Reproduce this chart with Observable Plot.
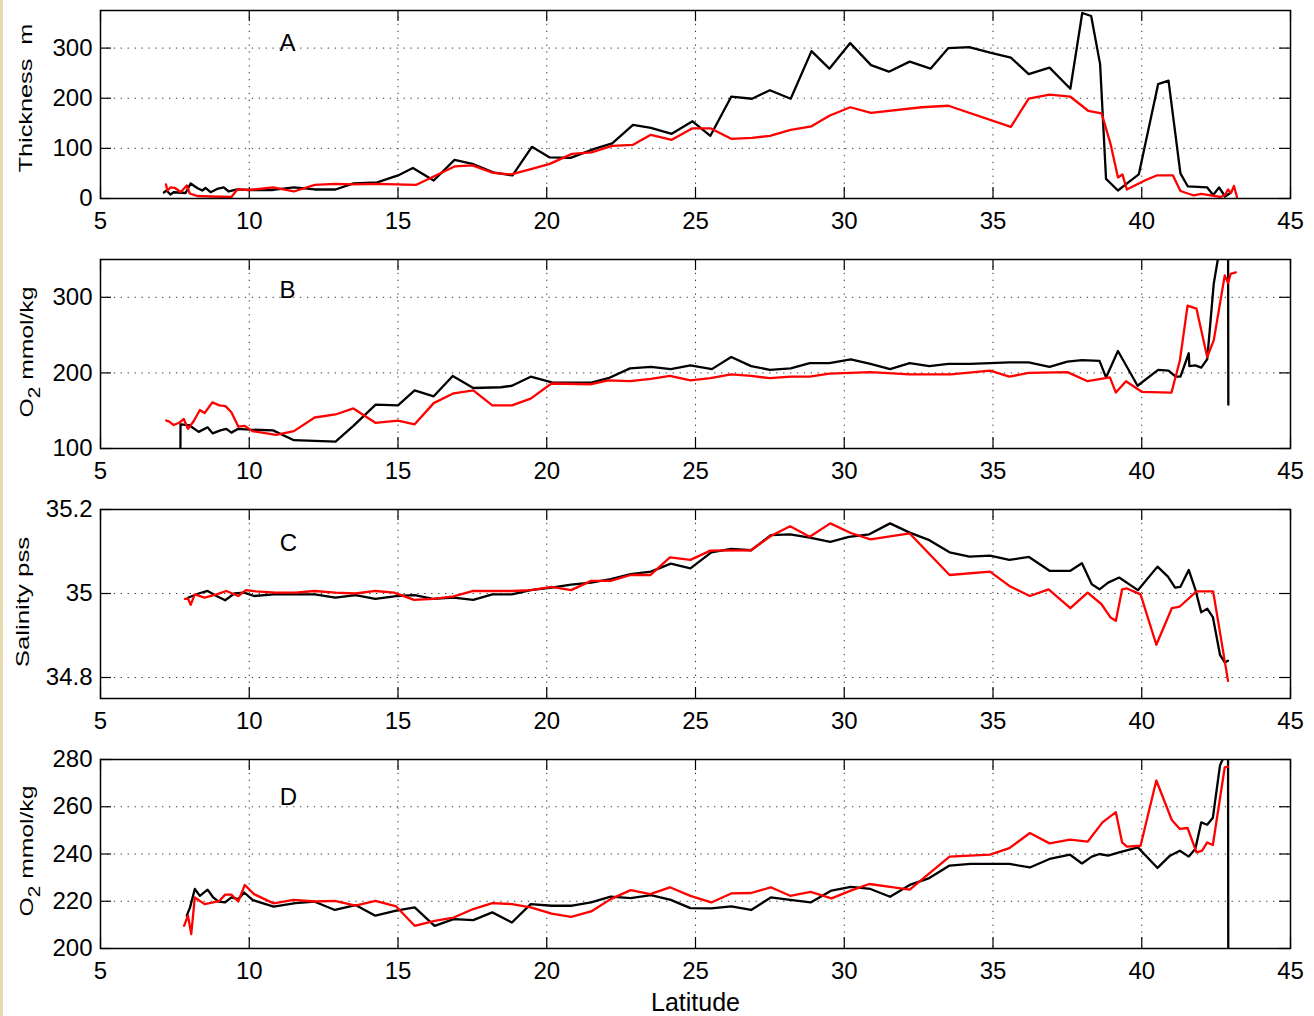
<!DOCTYPE html>
<html>
<head>
<meta charset="utf-8">
<script src="https://cdn.jsdelivr.net/npm/d3@7"></script>
<script src="https://cdn.jsdelivr.net/npm/@observablehq/plot@0.6"></script>
<style>
  html, body { margin: 0; padding: 0; background: white; }
  #wrap { position: relative; width: 1314px; height: 1016px; overflow: hidden; }
  #wrap svg { display: block; }
  #strip { position: absolute; left: 0; top: 0; width: 3px; height: 1016px; background: #e9d9b1; }
</style>
</head>
<body>
<div id="wrap"><div id="strip"></div></div>
<script>
// ---- tick values ----
const xTicks = [5, 10, 15, 20, 25, 30, 35, 40, 45];
const yTicksA = [0, 100, 200, 300];
const yTicksB = [100, 200, 300];
const yTicksC = [34.8, 35, 35.2];
const yTicksD = [200, 220, 240, 260, 280];

// ---- Panel A: Thickness (m) ----
const thickBlackLat = [7.13, 7.22, 7.35, 7.46, 7.86, 8.03, 8.25, 8.42, 8.53, 8.7, 8.92, 9.14, 9.31, 9.6, 10.0, 10.8, 11.5, 12.2, 12.9, 13.5, 14.3, 15.0, 15.5, 16.2, 16.9, 17.5, 18.2, 18.85, 19.5, 20.1, 20.8, 21.6, 22.2, 22.9, 23.5, 24.2, 24.9, 25.5, 26.2, 26.9, 27.5, 28.2, 28.9, 29.5, 30.2, 30.9, 31.5, 32.2, 32.9, 33.5, 34.2, 34.9, 35.6, 36.2, 36.9, 37.6, 38.0, 38.3, 38.6, 38.8, 39.2, 39.55, 39.9, 40.55, 40.9, 41.3, 41.55, 42.2, 42.4, 42.6, 42.8, 42.95];
const thickBlack = [12, 16, 8, 12.5, 11, 30, 21, 16, 21, 12.5, 19, 22, 14, 18, 17, 17, 22, 18, 18, 30, 32, 46, 61, 36, 77, 69, 52, 46, 103, 82, 81, 99, 110, 147, 141, 129, 154, 125, 203, 199, 216, 199, 294, 259, 310, 266, 253, 273, 259, 300, 302, 291, 281, 248, 261, 219, 370, 364, 268, 39, 16, 32, 48, 228, 235, 50, 24, 22, 7, 22, 4, 10];
const thickRedLat = [7.2, 7.25, 7.35, 7.5, 7.7, 7.9, 8.0, 8.25, 8.7, 9.4, 9.6, 10.0, 10.8, 11.5, 12.2, 12.9, 13.5, 14.3, 15.6, 16.2, 16.9, 17.5, 18.2, 18.8, 19.5, 20.1, 20.85, 21.5, 22.2, 22.9, 23.5, 24.2, 24.9, 25.5, 26.2, 26.9, 27.5, 28.2, 28.9, 29.5, 30.2, 30.9, 32.6, 33.5, 35.6, 36.2, 36.9, 37.6, 38.2, 38.65, 38.95, 39.2, 39.35, 39.5, 40.1, 40.5, 41.05, 41.3, 41.75, 42.0, 42.65, 42.8, 42.9, 43.0, 43.1, 43.2];
const thickRed = [28, 16, 22, 21, 13, 26, 10, 5, 4, 3, 18, 17, 22, 14, 27, 29, 28, 29, 27, 44, 64, 66, 51, 48, 59, 69, 89, 92, 105, 107, 127, 117, 140, 140, 119, 121, 125, 137, 144, 165, 182, 171, 182, 185, 143, 199, 207, 203, 175, 170, 109, 42, 48, 18, 36, 46, 46, 15, 6, 9, 3, 7, 18, 11, 25, 3];

// ---- Panel B: O2 (mmol/kg) ----
const oxyBBlackLat = [7.68, 7.69, 7.97, 8.3, 8.6, 8.77, 9.03, 9.23, 9.4, 9.63, 10.0, 10.8, 11.5, 12.9, 13.5, 14.25, 15.0, 15.56, 16.2, 16.84, 17.53, 18.46, 18.83, 19.46, 20.2, 21.5, 22.07, 22.8, 23.5, 24.17, 24.83, 25.55, 26.2, 26.87, 27.5, 28.2, 28.84, 29.5, 30.22, 30.88, 31.54, 32.2, 32.86, 33.5, 34.24, 34.9, 35.55, 36.2, 36.9, 37.5, 37.99, 38.58, 38.8, 39.2, 39.86, 40.55, 40.9, 41.14, 41.3, 41.58, 41.6, 41.8, 42.0, 42.2, 42.42, 42.6, 42.8, 42.9, 42.91];
const oxyBBlack = [40, 132, 131, 122, 128, 120, 124, 126, 121, 126, 125, 124, 111, 109, 130, 158, 157, 177, 169, 196, 180, 181, 183, 195, 187, 187, 193, 206, 208, 205, 210, 205, 221, 209, 204, 206, 213, 213, 218, 212, 205, 213, 209, 212, 212, 213, 214, 214, 208, 215, 217, 216, 194, 229, 183, 204, 203, 195, 195, 226, 209, 210, 207, 218, 318, 360, 420, 420, 158];
const oxyBRedLat = [7.21, 7.3, 7.46, 7.64, 7.8, 7.94, 8.13, 8.34, 8.5, 8.76, 9.0, 9.2, 9.4, 9.63, 9.85, 10.1, 10.9, 11.5, 12.2, 12.9, 13.5, 14.24, 15.0, 15.56, 16.2, 16.87, 17.53, 18.17, 18.83, 19.46, 20.16, 21.5, 22.07, 22.8, 23.5, 24.14, 24.83, 25.5, 26.2, 26.87, 27.5, 28.2, 28.84, 29.5, 30.88, 32.2, 33.58, 34.9, 35.55, 36.2, 37.5, 38.18, 38.93, 39.13, 39.47, 40.0, 41.0, 41.28, 41.54, 41.84, 42.2, 42.42, 42.79, 42.9, 42.99, 43.16];
const oxyBRed = [137, 136, 131, 134, 139, 126, 136, 151, 147, 161, 157, 156, 148, 129, 130, 123, 118, 123, 141, 145, 153, 134, 137, 132, 160, 173, 177, 157, 157, 166, 186, 185, 190, 189, 192, 196, 190, 193, 198, 196, 193, 195, 195, 199, 201, 198, 198, 203, 195, 200, 201, 189, 194, 174, 189, 175, 174, 216, 289, 285, 221, 243, 329, 319, 331, 333];

// ---- Panel C: Salinity (pss) ----
const salBlackLat = [7.94, 8.3, 8.6, 8.9, 9.19, 9.5, 9.83, 10.16, 10.82, 11.55, 12.2, 12.9, 13.57, 14.24, 14.94, 15.56, 16.18, 16.87, 17.53, 18.17, 18.83, 19.46, 20.16, 20.82, 21.49, 22.15, 22.82, 23.5, 24.17, 24.83, 25.53, 26.2, 26.87, 27.53, 28.18, 28.84, 29.53, 30.16, 30.84, 31.54, 32.2, 32.86, 33.54, 34.21, 34.9, 35.55, 36.21, 36.9, 37.6, 37.99, 38.32, 38.58, 38.87, 39.24, 39.87, 40.53, 40.88, 41.12, 41.3, 41.58, 41.8, 42.0, 42.2, 42.39, 42.63, 42.79, 42.9];
const salBlack = [34.990, 35.000, 35.006, 34.994, 34.984, 35.000, 35.002, 34.994, 34.998, 34.998, 34.998, 34.990, 34.996, 34.987, 34.994, 34.996, 34.987, 34.990, 34.985, 34.998, 34.998, 35.008, 35.014, 35.021, 35.026, 35.034, 35.046, 35.052, 35.071, 35.060, 35.098, 35.106, 35.103, 35.139, 35.141, 35.133, 35.123, 35.135, 35.141, 35.167, 35.145, 35.127, 35.098, 35.088, 35.090, 35.080, 35.087, 35.054, 35.054, 35.072, 35.022, 35.010, 35.026, 35.038, 35.008, 35.064, 35.040, 35.014, 35.016, 35.056, 35.010, 34.955, 34.964, 34.944, 34.854, 34.836, 34.840];
const salRedLat = [7.84, 7.94, 8.03, 8.17, 8.5, 8.9, 9.23, 9.63, 9.89, 10.23, 10.89, 11.55, 12.2, 12.9, 13.57, 14.24, 14.87, 15.54, 16.2, 16.87, 17.53, 18.83, 19.46, 20.16, 20.82, 21.49, 22.15, 22.82, 23.48, 24.14, 24.83, 25.5, 26.87, 27.53, 28.18, 28.84, 29.53, 30.22, 30.88, 32.2, 33.54, 34.9, 35.55, 36.24, 36.87, 37.6, 38.18, 38.64, 38.95, 39.13, 39.34, 39.5, 39.96, 40.49, 41.01, 41.28, 41.84, 42.4, 42.9];
const salRed = [34.987, 34.988, 34.973, 34.998, 34.990, 34.998, 35.006, 34.994, 35.008, 35.005, 35.002, 35.002, 35.006, 35.002, 35.000, 35.006, 35.002, 34.985, 34.987, 34.993, 35.006, 35.006, 35.008, 35.016, 35.008, 35.030, 35.030, 35.044, 35.044, 35.086, 35.080, 35.102, 35.103, 35.137, 35.160, 35.135, 35.167, 35.144, 35.129, 35.143, 35.044, 35.052, 35.018, 34.994, 35.010, 34.965, 35.002, 34.975, 34.943, 34.935, 35.010, 35.012, 34.998, 34.878, 34.965, 34.969, 35.005, 35.005, 34.792];

// ---- Panel D: O2 (mmol/kg) ----
const oxyDBlackLat = [7.9, 8.01, 8.17, 8.34, 8.6, 8.79, 8.96, 9.19, 9.4, 9.63, 9.83, 10.12, 10.82, 11.55, 12.2, 12.88, 13.57, 14.24, 14.94, 15.56, 16.23, 16.87, 17.53, 18.17, 18.83, 19.46, 20.16, 20.85, 21.49, 22.15, 22.82, 23.5, 24.17, 24.83, 25.53, 26.2, 26.87, 27.53, 28.18, 28.87, 29.57, 30.22, 30.88, 31.54, 32.2, 32.86, 33.54, 34.24, 34.9, 35.55, 36.24, 36.9, 37.59, 37.99, 38.32, 38.58, 38.87, 39.24, 39.87, 40.53, 40.95, 41.28, 41.58, 41.8, 42.0, 42.2, 42.39, 42.63, 42.79, 42.9, 42.91];
const oxyDBlack = [213.9, 217.4, 225.2, 222.3, 224.9, 221.6, 219.9, 219.5, 221.6, 220.9, 223.7, 220.5, 217.7, 219.2, 219.8, 216.3, 218.4, 213.9, 216.0, 217.4, 209.6, 212.4, 212.0, 215.3, 211.0, 218.8, 218.1, 218.1, 219.5, 222.0, 221.3, 222.6, 220.6, 217.1, 217.0, 217.8, 216.3, 221.6, 220.6, 219.5, 224.5, 226.1, 225.2, 221.9, 226.9, 229.8, 235.1, 235.8, 235.8, 235.8, 234.3, 237.9, 239.7, 236.0, 238.9, 240.0, 239.3, 240.7, 242.8, 234.1, 239.3, 241.4, 238.9, 242.1, 253.4, 252.4, 255.3, 277.5, 282, 290, 180];
const oxyDRedLat = [7.81, 7.94, 8.05, 8.17, 8.5, 8.79, 9.0, 9.19, 9.4, 9.63, 9.85, 10.16, 10.82, 11.49, 12.2, 12.88, 13.57, 14.24, 14.94, 15.56, 16.23, 16.87, 17.53, 18.17, 18.83, 19.46, 20.16, 20.82, 21.49, 22.15, 22.82, 23.48, 24.14, 24.83, 25.53, 26.2, 26.87, 27.53, 28.18, 28.87, 29.57, 30.22, 30.84, 31.54, 32.2, 33.54, 34.9, 35.55, 36.24, 36.9, 37.59, 38.18, 38.68, 39.13, 39.34, 39.5, 39.96, 40.49, 41.01, 41.28, 41.54, 41.84, 42.03, 42.2, 42.39, 42.79, 42.9];
const oxyDRed = [209.6, 213.9, 206.1, 221.6, 218.8, 219.5, 220.2, 222.8, 222.8, 219.9, 226.9, 223.0, 219.1, 220.6, 219.9, 220.2, 218.1, 220.2, 217.8, 209.6, 211.7, 213.1, 216.7, 219.2, 218.8, 217.4, 214.8, 213.4, 215.7, 220.9, 224.7, 223.0, 225.9, 222.3, 219.5, 223.3, 223.5, 225.9, 222.3, 224.0, 221.2, 224.5, 227.3, 226.1, 224.9, 238.9, 239.7, 242.5, 248.9, 244.5, 246.1, 245.2, 253.4, 257.7, 244.9, 243.1, 243.5, 271.1, 254.4, 250.6, 251.0, 240.7, 241.4, 244.9, 243.8, 276.7, 277];

const FONT = "'Liberation Sans', Arial, Helvetica, sans-serif";

function panel(cfg) {
  const W = 1314, ml = 100, mr = 24;
  const innerW = W - ml - mr;
  const innerH = cfg.height - cfg.marginTop - cfg.marginBottom;
  const tick = 11;
  const black = cfg.blackLat.map((lat, i) => ({lat, v: cfg.blackVal[i]}));
  const red = cfg.redLat.map((lat, i) => ({lat, v: cfg.redVal[i]}));
  const gridStyle = {stroke: "#333", strokeOpacity: 1, strokeWidth: 1, strokeDasharray: "1.3,5.6"};
  const tickStyle = {stroke: "black", strokeWidth: 1.2};
  const marks = [
    Plot.gridX({ticks: xTicks.slice(1, -1), ...gridStyle}),
    Plot.gridY({ticks: cfg.yTicks, ...gridStyle}),
    Plot.ruleX(xTicks, {x: d => d, insetTop: innerH - tick, ...tickStyle}),
    Plot.ruleX(xTicks, {x: d => d, insetBottom: innerH - tick, ...tickStyle}),
    Plot.ruleY(cfg.yTicks, {y: d => d, insetRight: innerW - tick, ...tickStyle}),
    Plot.ruleY(cfg.yTicks, {y: d => d, insetLeft: innerW - tick, ...tickStyle}),
    Plot.line(black, {x: "lat", y: "v", stroke: "black", strokeWidth: 2.3, clip: true}),
    Plot.line(red, {x: "lat", y: "v", stroke: "#ff0000", strokeWidth: 2.3, clip: true}),
    Plot.frame({stroke: "black", strokeWidth: 1.5}),
    Plot.axisX({ticks: xTicks, tickSize: 0, tickPadding: 13, label: null, fontSize: 24, tickFormat: d => String(d)}),
    Plot.axisY({ticks: cfg.yTicks, tickSize: 0, tickPadding: 8, label: null, fontSize: 24, tickFormat: d => String(d)}),
    Plot.text([cfg.letter], {frameAnchor: "top-left", dx: cfg.letterDx, dy: cfg.letterDy, text: d => d, fontSize: 24, textAnchor: "middle", lineAnchor: "middle", fill: "black"})
  ];
  if (cfg.xlabel) {
    marks.push(Plot.text([cfg.xlabel], {frameAnchor: "bottom", dy: 54, text: d => d, fontSize: 25, textAnchor: "middle", lineAnchor: "middle", fill: "black"}));
  }
  const svg = Plot.plot({
    width: W, height: cfg.height,
    marginLeft: ml, marginRight: mr, marginTop: cfg.marginTop, marginBottom: cfg.marginBottom,
    style: {fontFamily: FONT, fontSize: "24px", background: "white", color: "black", overflow: "visible"},
    x: {domain: [5, 45]},
    y: {domain: cfg.domain},
    marks
  });
  // rotated y-axis label (with optional subscript), stretched along its reading direction
  const t = d3.select(svg).append("text")
    .attr("transform", `translate(${cfg.ylabX},${cfg.ylabY}) rotate(-90) scale(${cfg.ylabStretch},1)`)
    .attr("text-anchor", "middle")
    .attr("font-family", FONT)
    .attr("font-size", 19)
    .attr("fill", "black");
  cfg.ylabel.forEach(part => {
    const s = t.append("tspan").text(part.text);
    if (part.sub) s.attr("dy", 7).attr("font-size", 16);
    if (part.after) s.attr("dy", -7);
  });
  document.getElementById("wrap").appendChild(svg);
}

panel({height: 250, marginTop: 10, marginBottom: 52, domain: [0, 375], yTicks: yTicksA,
  blackLat: thickBlackLat, blackVal: thickBlack, redLat: thickRedLat, redVal: thickRed,
  letter: "A", letterDx: 187, letterDy: 33,
  ylabel: [{text: "Thickness  m"}], ylabX: 32, ylabY: 98, ylabStretch: 1.33});

panel({height: 250, marginTop: 9, marginBottom: 52, domain: [100, 350], yTicks: yTicksB,
  blackLat: oxyBBlackLat, blackVal: oxyBBlack, redLat: oxyBRedLat, redVal: oxyBRed,
  letter: "B", letterDx: 187, letterDy: 31,
  ylabel: [{text: "O"}, {text: "2", sub: true}, {text: " mmol/kg", after: true}], ylabX: 33, ylabY: 102, ylabStretch: 1.3});

panel({height: 250, marginTop: 9, marginBottom: 52, domain: [34.75, 35.2], yTicks: yTicksC,
  blackLat: salBlackLat, blackVal: salBlack, redLat: salRedLat, redVal: salRed,
  letter: "C", letterDx: 188, letterDy: 34,
  ylabel: [{text: "Salinity pss"}], ylabX: 29, ylabY: 102, ylabStretch: 1.36});

panel({height: 266, marginTop: 9, marginBottom: 68, domain: [200, 280], yTicks: yTicksD,
  blackLat: oxyDBlackLat, blackVal: oxyDBlack, redLat: oxyDRedLat, redVal: oxyDRed,
  letter: "D", letterDx: 188, letterDy: 38, xlabel: "Latitude",
  ylabel: [{text: "O"}, {text: "2", sub: true}, {text: " mmol/kg", after: true}], ylabX: 33, ylabY: 101, ylabStretch: 1.3});
</script>
</body>
</html>
